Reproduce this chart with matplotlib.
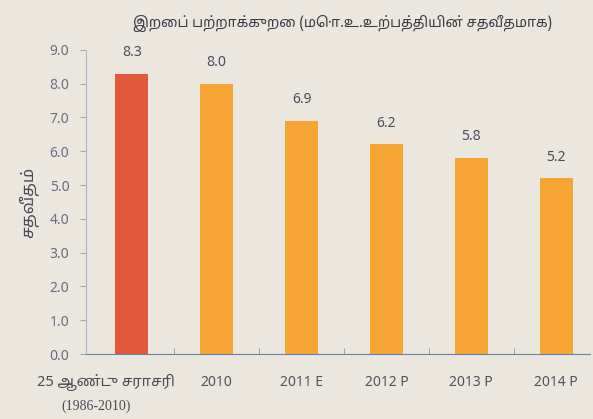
import matplotlib
matplotlib.use("Agg")
import matplotlib.pyplot as plt
import numpy as np

# data
categories = ["25 ஆண்டு சராசரி\n(1986-2010)", "2010", "2011 E", "2012 P", "2013 P", "2014 P"]
values = [8.3, 8.0, 6.9, 6.2, 5.8, 5.2]
value_labels = ["8.3", "8.0", "6.9", "6.2", "5.8", "5.2"]
yticks = [0.0, 1.0, 2.0, 3.0, 4.0, 5.0, 6.0, 7.0, 8.0, 9.0]

plt.rcParams["font.family"] = ["Noto Sans Tamil", "DejaVu Sans"]

bg = "#ebe7df"

fig = plt.figure(figsize=(5.93, 4.19), dpi=100, facecolor=bg)
ax = fig.add_axes([0.145, 0.155, 0.85, 0.726], facecolor=bg)

x = np.arange(len(values))
colors = ["#e2583a"] + ["#f6a535"] * (len(values) - 1)
ax.bar(x, values, width=0.39, color=colors, zorder=2)

for xi, v, lab in zip(x, values, value_labels):
    ax.text(xi, v + 0.4, lab, ha="center", va="bottom", fontsize=10,
            color="#4a4c5e", clip_on=False)

ax.set_ylim(0, 9)
ax.set_xlim(-0.54, 5.4)
ax.set_yticks(yticks)
ax.set_yticklabels([f"{t:.1f}" for t in yticks], fontsize=10, color="#6a6c80")
ax.set_xticks(x)
ax.set_xticklabels([""] * len(x))
ax.set_xticks(x[:-1] + 0.5, minor=True)
ax.tick_params(axis="x", which="major", length=0)
ax.tick_params(axis="x", which="minor", length=4, color="#8a90a8", direction="in")
ax.tick_params(axis="y", length=4, color="#9aa8c0", pad=8)

for s in ["top", "right"]:
    ax.spines[s].set_visible(False)
ax.spines["left"].set_color("#a8b8cc")
ax.spines["bottom"].set_color("#7080a8")

# x labels
ax.text(-0.3, -0.85, "25 ஆண்டு சராசரி", ha="center", va="center", fontsize=10.5,
        color="#4a4a55", clip_on=False)
ax.text(-0.42, -1.55, "(1986-2010)", ha="center", va="center", fontsize=10,
        family="Liberation Serif", color="#4a4a55", clip_on=False)
for xi, lab in zip(x[1:], categories[1:]):
    ax.text(xi, -0.85, lab, ha="center", va="center", fontsize=10,
            color="#50525e", clip_on=False)

ax.set_ylabel("சதவீதம்", fontsize=12, color="#4a4a55", labelpad=8)
fig.text(0.578, 0.945, "இறைப் பற்றாக்குறை (மொ.உ.உற்பத்தியின் சதவீதமாக)",
         ha="center", va="center", fontsize=10.2, color="#3a3a45")

fig.savefig("out.png", dpi=100, facecolor=bg)
